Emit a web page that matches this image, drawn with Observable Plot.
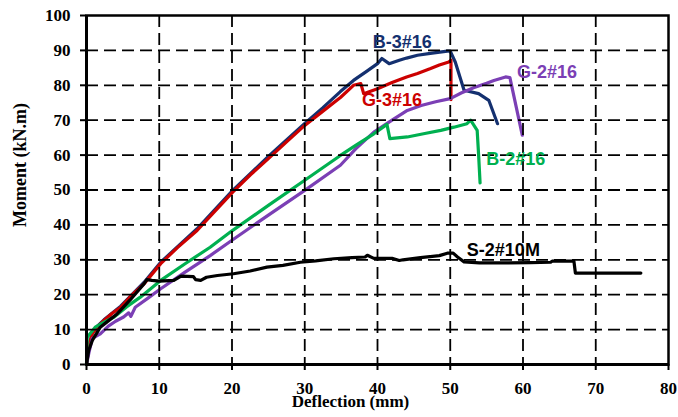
<!DOCTYPE html>
<html>
<head>
<meta charset="utf-8">
<script src="https://cdn.jsdelivr.net/npm/d3@7"></script>
<script src="https://cdn.jsdelivr.net/npm/@observablehq/plot@0.6"></script>
<style>
  html, body { margin: 0; padding: 0; background: #fff; }
</style>
</head>
<body>
<div id="chart"></div>
<script>
// Series names and colours
const seriesNames = ["B-3#16", "G-3#16", "G-2#16", "B-2#16", "S-2#10M"];
const seriesColors = ["#14306f", "#cc0000", "#7b3fb5", "#00b050", "#000000"];

// B-3#16 (deflection mm, moment kN.m)
const b3x = [0, 0.3, 0.8, 1.5, 2.4, 4.7, 7.9, 10.2, 15.2, 20.1, 25, 30, 32.5, 34.9, 36.7, 38.5, 40, 40.6, 41.6, 43, 44, 45.5, 47.5, 49.6, 50, 50.7, 51.9, 53.9, 55.3, 56.5];
const b3y = [0, 5.2, 9.0, 11.0, 12.8, 16.7, 23.5, 29.3, 38.9, 49.9, 59.6, 69.1, 73.6, 78.2, 81.4, 84.0, 86.2, 87.7, 86.2, 87.2, 87.8, 88.6, 89.2, 89.8, 89.8, 86.6, 78.6, 77.6, 75.7, 69.0];

// G-3#16
const g3x = [0, 0.3, 0.78, 1.5, 2.4, 3.5, 4.7, 6, 7.9, 10.2, 12.5, 15.2, 17.5, 20.1, 22.5, 25, 27.5, 30, 32.5, 34.9, 36.7, 37.7, 38.1, 40, 42, 44, 45.5, 47.3, 48.5, 49.8, 50.1, 50.1];
const g3y = [0, 5.0, 8.8, 10.8, 12.6, 14.6, 16.4, 19.4, 23.1, 28.9, 33.5, 38.4, 43.6, 49.4, 54.3, 59.0, 63.8, 68.5, 72.6, 76.5, 80.0, 80.5, 77.6, 79.0, 80.8, 82.4, 83.4, 84.8, 85.8, 86.7, 87.2, 75.9];

// G-2#16
const g2x = [0, 0.4, 0.8, 1.9, 3, 4, 5.1, 5.8, 6.1, 6.7, 8.5, 10.2, 13.5, 17, 20, 25, 30, 34.9, 37, 39.5, 42, 44.1, 46, 48, 50, 51.5, 53.2, 55, 56, 57.6, 58.2, 59.9];
const g2y = [0, 4.0, 7.5, 8.8, 11.0, 12.4, 13.6, 14.8, 13.8, 16.4, 19.1, 21.7, 26.4, 31.2, 35.6, 42.8, 49.9, 57.1, 61.8, 66.6, 70.0, 72.8, 74.2, 75.3, 76.2, 77.8, 79.3, 80.6, 81.4, 82.4, 82.2, 65.7];

// B-2#16
const b2x = [0, 0.1, 1.2, 2.5, 3.8, 5.5, 7.4, 10.2, 13.5, 17, 20, 25, 30, 34.9, 37, 39.5, 41.3, 41.7, 44.1, 46.5, 48.7, 50.5, 52.3, 52.8, 53.7, 53.9, 54.1];
const b2y = [0, 7.8, 10.7, 12.2, 13.6, 16.5, 19.3, 24.1, 28.8, 33.6, 38.3, 45.6, 52.8, 59.9, 62.8, 66.1, 68.8, 64.7, 65.2, 66.2, 67.1, 68.0, 69.0, 70.0, 67.1, 60.0, 52.0];

// S-2#10M
const s2x = [0, 0.3, 0.8, 1.9, 3, 4.2, 6, 7.9, 8.3, 9, 10, 12, 13, 14.7, 15, 15.7, 16.5, 18, 20.2, 22.5, 24.8, 27, 29.4, 31.5, 34, 36.5, 38.3, 38.6, 39.5, 42, 43, 43.5, 45.9, 48.5, 49.6, 50.4, 51, 51.9, 54, 58, 61, 63.8, 64, 67, 67.2, 76.2];
const s2y = [0, 4.0, 6.9, 10.7, 12.5, 14.5, 18.5, 23.1, 24.3, 24.1, 23.9, 24.1, 25.3, 25.2, 24.3, 24.1, 25.0, 25.5, 26.0, 26.8, 27.9, 28.4, 29.3, 29.7, 30.3, 30.6, 30.8, 31.3, 30.4, 30.4, 29.8, 30.0, 30.6, 31.2, 31.9, 31.9, 30.8, 29.4, 29.1, 29.1, 29.2, 29.3, 29.6, 29.6, 26.2, 26.2];

// Series label positions (data units)
const labelX = [43.4, 42, 63.3, 59, 57.3];
const labelY = [92.3, 75.7, 83.8, 58.7, 32.7];

// Ticks
const xTicks = [0, 10, 20, 30, 40, 50, 60, 70, 80];
const yTicks = [0, 10, 20, 30, 40, 50, 60, 70, 80, 90, 100];
const xGrid = [10, 20, 30, 40, 50, 60, 70];
const yGrid = [10, 20, 30, 40, 50, 60, 70, 80, 90];

const xsAll = [b3x, g3x, g2x, b2x, s2x];
const ysAll = [b3y, g3y, g2y, b2y, s2y];

const serif = "Liberation Serif";
const sans = "Liberation Sans";

const lineMarks = xsAll.map((xs, i) => {
  const rows = xs.map((x, k) => ({x, y: ysAll[i][k]}));
  return Plot.line(rows, {x: "x", y: "y", stroke: seriesColors[i], strokeWidth: 3.2});
});

const labelMarks = seriesNames.map((name, i) =>
  Plot.text([{x: labelX[i], y: labelY[i], t: name}], {x: "x", y: "y", text: "t", fill: seriesColors[i], fontFamily: sans, fontSize: 18, fontWeight: "bold", textAnchor: "middle"})
);

const chart = Plot.plot({
  width: 678,
  height: 417,
  marginLeft: 86,
  marginRight: 10,
  marginTop: 15,
  marginBottom: 53,
  style: {fontFamily: serif, fontSize: "17px", fontWeight: "bold", color: "black", background: "white"},
  x: {domain: [0, 80], ticks: xTicks},
  y: {domain: [0, 100], ticks: yTicks},
  marks: [
    Plot.axisX({ticks: xTicks, tickSize: 6, tickPadding: 11, strokeWidth: 2, label: null, fontFamily: serif, fontSize: 17, fontWeight: "bold"}),
    Plot.axisY({ticks: yTicks, tickSize: 6, tickPadding: 10, strokeWidth: 2, label: null, fontFamily: serif, fontSize: 17, fontWeight: "bold"}),
    ...lineMarks,
    Plot.gridX({ticks: xGrid, stroke: "black", strokeOpacity: 1, strokeWidth: 1.8, strokeDasharray: "12,6"}),
    Plot.gridY({ticks: yGrid, stroke: "black", strokeOpacity: 1, strokeWidth: 1.8, strokeDasharray: "12,6"}),
    Plot.frame({stroke: "black", strokeWidth: 2.5}),
    Plot.ruleX([0], {stroke: "black", strokeWidth: 3}),
    Plot.ruleY([0], {stroke: "black", strokeWidth: 3}),
    ...labelMarks,
    Plot.text(["Deflection (mm)"], {frameAnchor: "bottom", dx: -27, dy: 42, fontFamily: serif, fontSize: 17, fontWeight: "bold", fill: "black"}),
    Plot.text(["Moment (kN.m)"], {frameAnchor: "left", dx: -66, dy: 37, rotate: -90, fontFamily: serif, fontSize: 18, fontWeight: "bold", fill: "black"})
  ]
});

document.getElementById("chart").appendChild(chart);
</script>
</body>
</html>
